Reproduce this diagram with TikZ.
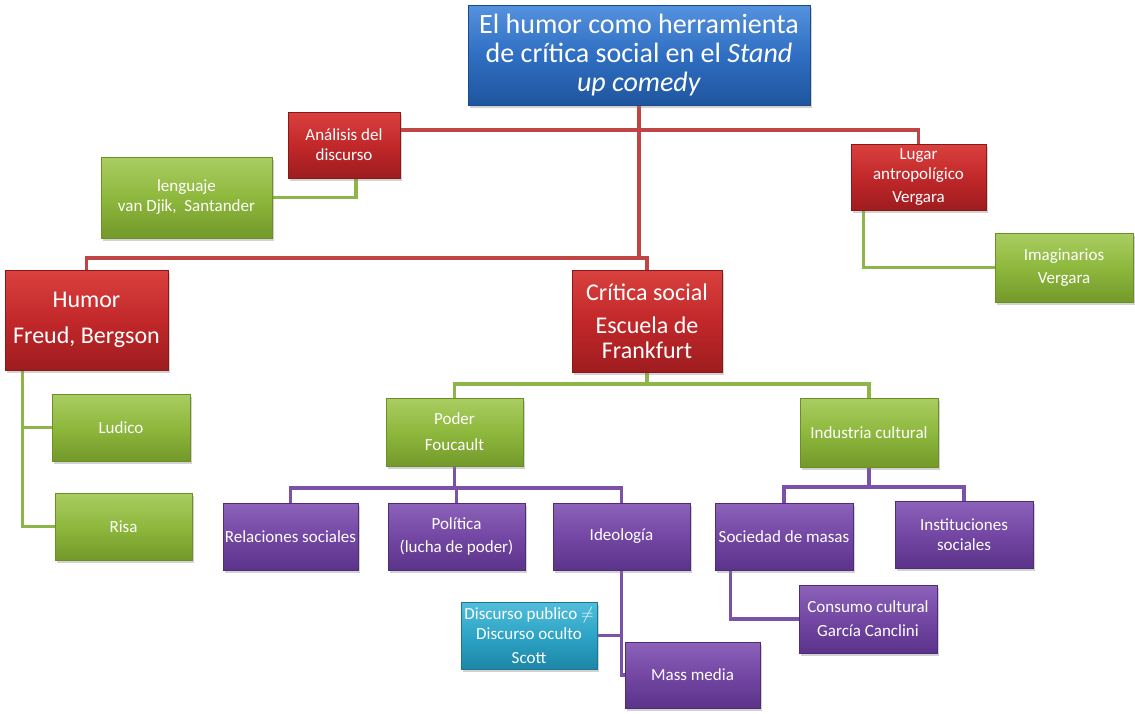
\documentclass[tikz,border=0pt]{standalone}
\usepackage{fontspec}
\setmainfont{Carlito}
\usetikzlibrary{shadows,backgrounds}
\definecolor{redT}{HTML}{D9413E}
\definecolor{redM}{HTML}{C2282A}
\definecolor{redB}{HTML}{9E1C1F}
\definecolor{redD}{HTML}{8A1719}
\definecolor{redL}{HTML}{C04545}
\definecolor{grnT}{HTML}{AACD62}
\definecolor{grnM}{HTML}{8EB83D}
\definecolor{grnB}{HTML}{73992A}
\definecolor{grnD}{HTML}{6A8F25}
\definecolor{grnL}{HTML}{8DB548}
\definecolor{purT}{HTML}{8C62BA}
\definecolor{purM}{HTML}{7347A3}
\definecolor{purB}{HTML}{5B338A}
\definecolor{purD}{HTML}{4F2C78}
\definecolor{purL}{HTML}{7A53A8}
\definecolor{bluT}{HTML}{5592DE}
\definecolor{bluM}{HTML}{2F6EC2}
\definecolor{bluB}{HTML}{1F559E}
\definecolor{bluD}{HTML}{1B4A8A}
\definecolor{cyaT}{HTML}{52BEDB}
\definecolor{cyaM}{HTML}{2DA4C6}
\definecolor{cyaB}{HTML}{1D86A6}
\definecolor{cyaD}{HTML}{1A7895}
\tikzset{
  box/.style={rectangle, line width=0.8pt, align=center, inner sep=1pt, text=white,
    drop shadow={opacity=0.35, shadow xshift=2pt, shadow yshift=-2.5pt},
    font=\fontsize{17}{20}\selectfont},
  sz/.style 2 args={minimum width=#1pt, minimum height=#2pt},
  redbox/.style={box, draw=redD, top color=redT, bottom color=redB, middle color=redM},
  grnbox/.style={box, draw=grnD, top color=grnT, bottom color=grnB, middle color=grnM},
  purbox/.style={box, draw=purD, top color=purT, bottom color=purB, middle color=purM},
  blubox/.style={box, draw=bluD, top color=bluT, bottom color=bluB, middle color=bluM},
  cyabox/.style={box, draw=cyaD, top color=cyaT, bottom color=cyaB, middle color=cyaM},
  conn/.style={line width=3.2pt},
  redline/.style={conn, draw=redL},
  grnline/.style={conn, draw=grnL},
  purline/.style={conn, draw=purL},
}
\begin{document}
\begin{tikzpicture}[x=1pt, y=-1pt]
\useasboundingbox (0,0) rectangle (1135,713);

% nodes
\node[blubox, sz={342}{100}, font=\fontsize{28}{29}\selectfont] (title) at (639,55)
  {El humor como herramienta\\de crítica social en el \textit{Stand}\\\textit{up comedy}};
\node[redbox, sz={112}{66}] (ana) at (344,145) {Análisis del\\discurso};
\node[grnbox, sz={171}{81}] (leng) at (186.5,197.5) {lenguaje\\van Djik,\ \ Santander};
\node[redbox, sz={135}{66}] (lugar) at (918.5,177) {Lugar\\antropolígico\\[3pt]Vergara};
\node[grnbox, sz={138}{69}] (imag) at (1064,267.5) {Imaginarios\\[3pt]Vergara};
\node[redbox, sz={163}{100}, font=\fontsize{24}{26}\selectfont] (humor) at (86.5,320) {Humor\\[10pt]Freud, Bergson};
\node[redbox, sz={150}{102}, font=\fontsize{24}{25}\selectfont] (critica) at (647,321) {Crítica social\\[8pt]Escuela de\\Frankfurt};
\node[grnbox, sz={137}{68}] (poder) at (454.5,432) {Poder\\[6pt]Foucault};
\node[grnbox, sz={138}{69}] (indus) at (869,432.5) {Industria cultural};
\node[grnbox, sz={138}{67}] (ludico) at (121,427.5) {Ludico};
\node[grnbox, sz={137}{67}] (risa) at (123.5,526.5) {Risa};
\node[purbox, sz={135}{67}] (rel) at (290.5,536.5) {Relaciones sociales};
\node[purbox, sz={137}{67}] (pol) at (456.5,536.5) {Política\\[3pt](lucha de poder)};
\node[purbox, sz={137}{67}] (ideo) at (621.5,536.5) {Ideología};
\node[purbox, sz={138}{67}] (soc) at (784,536.5) {Sociedad de masas};
\node[purbox, sz={138}{67}] (inst) at (964,534.5) {Instituciones\\sociales};
\node[purbox, sz={138}{68}] (cons) at (868,619) {Consumo cultural\\[4pt]García Canclini};
\node[cyabox, sz={136}{67}] (disc) at (529,635.5) {Discurso publico $\neq$\\Discurso oculto\\[4pt]Scott};
\node[purbox, sz={135}{66}] (mass) at (692.5,675) {Mass media};

% connectors
\coordinate (rb) at (639,130);
\coordinate (bus) at (0,258);
\coordinate (gbus) at (0,384);
\coordinate (pbus) at (0,488);
\coordinate (ibus) at (0,487);
\begin{scope}[on background layer]
  \fill[white] (0,0) rectangle (1135,713);
  \draw[redline] (title.south) -- (title.south |- bus);
  \draw[redline] (ana.east |- rb) -- (rb) -| (lugar.north);
  \draw[redline] (humor.north) |- (critica.north |- bus) -- (critica.north);
  \draw[grnline] ([xshift=12pt]ana.south) |- (leng.east);
  \draw[grnline] ([xshift=13pt]lugar.south west) |- (imag.west);
  \draw[grnline] ([xshift=18pt]humor.south west) |- (ludico.west);
  \draw[grnline] ([xshift=18pt]humor.south west) |- (risa.west);
  \draw[grnline] (critica.south) -- (critica.south |- gbus);
  \draw[grnline] (poder.north) |- (indus.north |- gbus) -- (indus.north);
  \draw[purline] (poder.south) -- (poder.south |- pbus);
  \draw[purline] (rel.north) |- (ideo.north |- pbus) -- (ideo.north);
  \draw[purline] (pol.north) -- (pol.north |- pbus);
  \draw[purline] (indus.south) -- (indus.south |- ibus);
  \draw[purline] (soc.north) |- (inst.north |- ibus) -- (inst.north);
  \draw[purline] ([xshift=16pt]soc.south west) |- (cons.west);
  \draw[purline] (ideo.south) |- (disc.east);
  \draw[purline] (ideo.south) |- (mass.west);
\end{scope}
\end{tikzpicture}
\end{document}
